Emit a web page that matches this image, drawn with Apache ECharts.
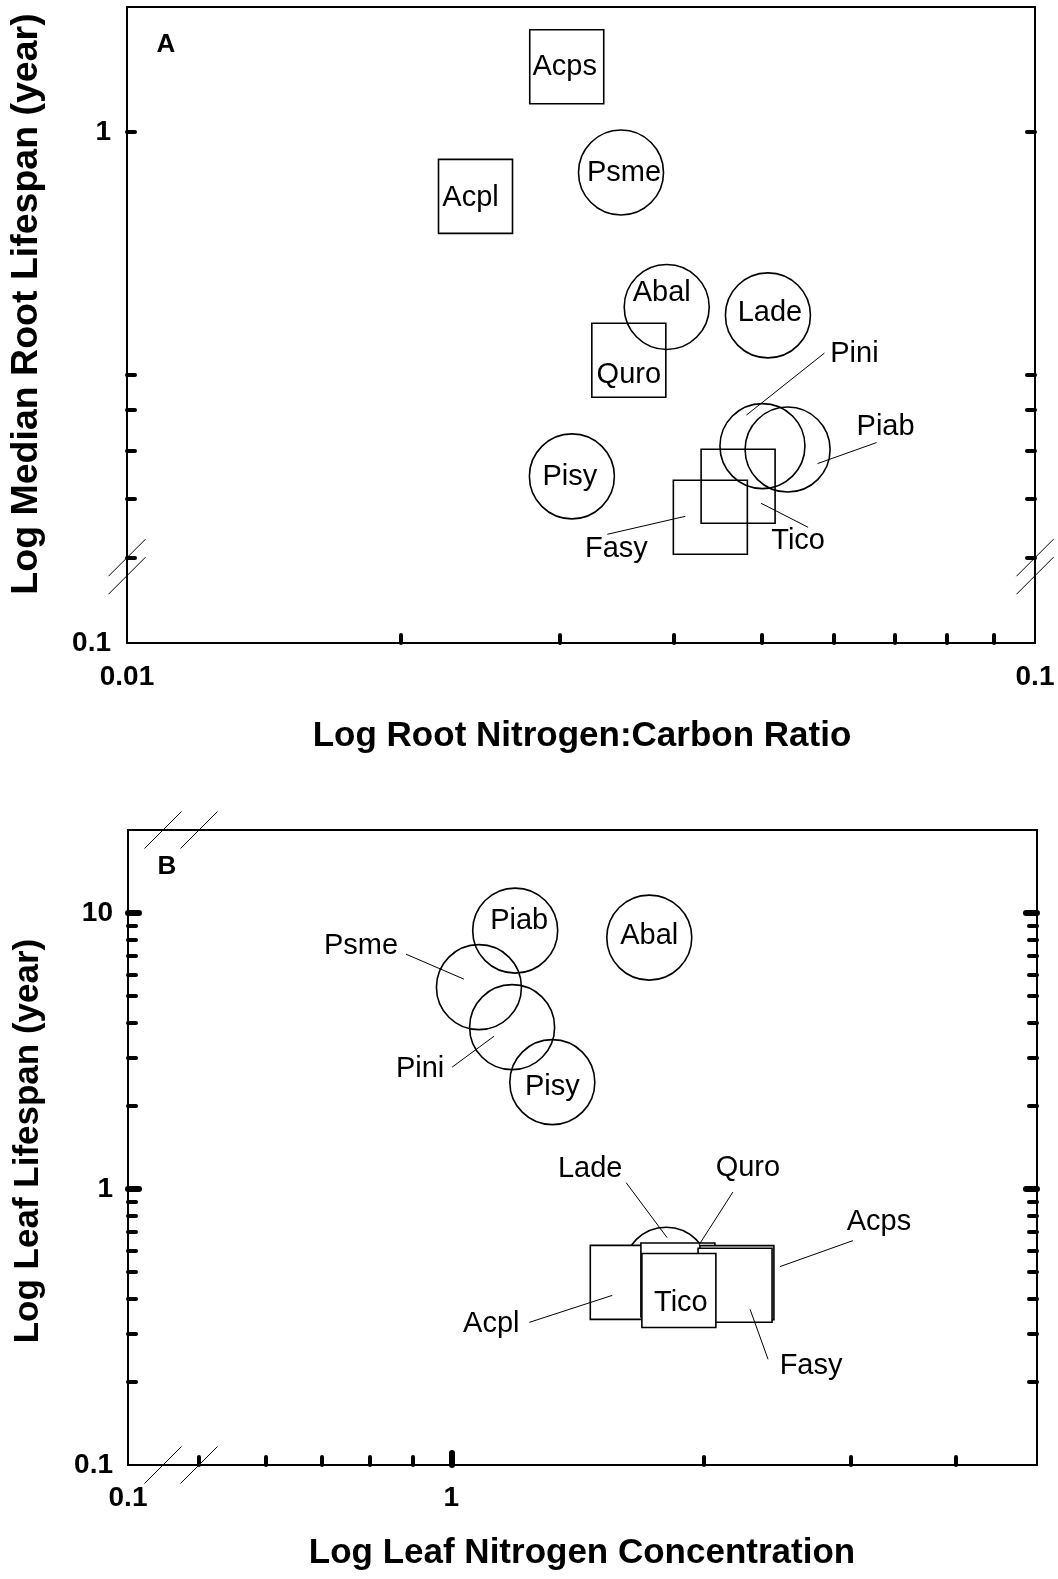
<!DOCTYPE html>
<html>
<head>
<meta charset="utf-8">
<script src="https://cdn.jsdelivr.net/npm/echarts@6.0.0/dist/echarts.min.js"></script>
<style>
  html, body { margin: 0; padding: 0; background: #fff; }
  #chart { width: 1058px; height: 1579px; }
</style>
</head>
<body>
<div id="chart"></div>
<script>
// ================= DATA =================
// Panel A : root N:C ratio vs median root lifespan
const aSpecies  = ['Acps', 'Acpl', 'Psme', 'Abal', 'Lade', 'Quro', 'Pini', 'Piab', 'Pisy', 'Tico', 'Fasy'];
const aGroup    = ['deciduous', 'deciduous', 'conifer', 'conifer', 'conifer', 'deciduous', 'conifer', 'conifer', 'conifer', 'deciduous', 'deciduous'];
const aRootNC   = [0.0305, 0.0242, 0.0350, 0.0393, 0.0508, 0.0357, 0.0501, 0.0534, 0.0309, 0.0471, 0.0439];
const aRootLife = [1.28, 0.784, 0.858, 0.516, 0.500, 0.422, 0.305, 0.301, 0.272, 0.262, 0.233];

// Panel B : leaf N concentration vs leaf lifespan
const bSpecies  = ['Psme', 'Piab', 'Pini', 'Pisy', 'Abal', 'Lade', 'Acpl', 'Quro', 'Acps', 'Fasy', 'Tico'];
const bGroup    = ['conifer', 'conifer', 'conifer', 'conifer', 'conifer', 'conifer', 'deciduous', 'deciduous', 'deciduous', 'deciduous', 'deciduous'];
const bLeafN    = [1.079, 1.192, 1.182, 1.320, 1.723, 1.805, 1.622, 1.864, 2.192, 2.181, 1.869];
const bLeafLife = [5.39, 8.64, 3.86, 2.44, 8.15, 0.510, 0.459, 0.468, 0.458, 0.448, 0.429];

// Tick values / labels
const aXTickVals  = [0.02, 0.03, 0.04, 0.05, 0.06, 0.07, 0.08, 0.09];
const aXLabelVals = [0.01, 0.1];
const aYTickVals  = [0.2, 0.25, 0.3, 0.35, 0.4, 1];
const aYLabelVals = [1];
const aYBreakLabel = '0.1';          // label printed at the broken lower end
const bXTickVals  = [0.5, 0.6, 0.7, 0.8, 0.9, 1, 2, 3, 4];
const bXMajorVals = [1];
const bXLabelVals = [1];
const bXBreakLabel = '0.1';          // label printed at the broken left end
const bYTickVals  = [0.2, 0.3, 0.4, 0.5, 0.6, 0.7, 0.8, 0.9, 1, 2, 3, 4, 5, 6, 7, 8, 9, 10];
const bYMajorVals = [1, 10];
const bYLabelVals = [0.1, 1, 10];

// Axis extents (broken axes: the lowest part is compressed)
const aXExtent = [0.01, 0.1];
const aYExtent = [0.14487, 1.6040];
const bXExtent = [0.41137, 5];
const bYExtent = [0.1, 20];
const aYBreakAt = 0.2;
const bXBreakAt = 0.5;

// ================= LAYOUT / STYLE =================
const FONT = '"Liberation Sans", Arial, Helvetica, sans-serif';
const GRID_A = { left: 127, top: 7, width: 908, height: 636 };
const GRID_B = { left: 128, top: 830, width: 909, height: 635 };

const labelOffsetA = {
  Acps: [-2, 0], Acpl: [-5, 2], Psme: [3, 1], Abal: [-5, -14], Lade: [2, -2], Quro: [0, 15],
  Pini: [92, -92], Piab: [98, -23], Pisy: [-2, 1], Tico: [60, 55], Fasy: [-94, 32]
};
const labelOffsetB = {
  Piab: [4, -10], Abal: [0, -2], Pisy: [0, 5], Psme: [-118, -41], Pini: [-92, 42],
  Lade: [-76, -101], Quro: [70, -112], Acps: [142, -61], Fasy: [76, 81], Acpl: [-136, 42], Tico: [2, 13]
};
// leader lines, relative to the marker centre: [from, to]
const leaderA = {
  Pini: [[62, -93], [-16, -31]],
  Piab: [[89, -7], [30, 14]],
  Fasy: [[-103, 17], [-25, -1]],
  Tico: [[70, 41], [23, 17]]
};
const leaderB = {
  Psme: [[-73, -33], [-15, -8]],
  Pini: [[-60, 40], [-18, 9]],
  Lade: [[-40, -87], [1, -32]],
  Quro: [[55, -88], [21, -35]],
  Acps: [[116, -42], [43, -16]],
  Fasy: [[33, 74], [15, 24]],
  Acpl: [[-98, 40], [-15, 13]]
};

const L = Math.log10;
function fmt(v) { return String(parseFloat(Math.pow(10, v).toPrecision(6))); }

const tickStyle = (vals, len, w) => ({
  show: true, inside: true, length: len,
  customValues: vals.map(L),
  lineStyle: { color: '#000', width: w, cap: 'round' }
});
const labelStyle = { color: '#000', fontFamily: FONT, fontWeight: 'bold', fontSize: 28 };

function valAxis(extra) {
  return Object.assign({
    type: 'value', axisLine: { show: false, onZero: false }, splitLine: { show: false },
    axisLabel: { show: false }, axisTick: { show: false }, silent: true
  }, extra);
}

// ---------- axes ----------
const xAxes = [
  valAxis({ gridIndex: 0, position: 'bottom', min: L(aXExtent[0]), max: L(aXExtent[1]),
    axisTick: tickStyle(aXTickVals, 8, 4),
    axisLabel: Object.assign({ show: true, margin: 20, customValues: aXLabelVals.map(L), formatter: v => fmt(v) }, labelStyle) }),
  valAxis({ gridIndex: 1, position: 'bottom', min: L(bXExtent[0]), max: L(bXExtent[1]),
    axisTick: tickStyle(bXTickVals, 8, 4),
    axisLabel: Object.assign({ show: true, margin: 19, customValues: [L(bXExtent[0])].concat(bXLabelVals.map(L)),
      formatter: v => (Math.abs(v - L(bXExtent[0])) < 1e-9 ? bXBreakLabel : fmt(v)) }, labelStyle) }),
  valAxis({ gridIndex: 1, position: 'bottom', min: L(bXExtent[0]), max: L(bXExtent[1]),
    axisTick: tickStyle(bXMajorVals, 12, 6) })
];
const yAxes = [
  valAxis({ gridIndex: 0, position: 'left', min: L(aYExtent[0]), max: L(aYExtent[1]),
    axisTick: tickStyle(aYTickVals, 8, 4),
    axisLabel: Object.assign({ show: true, margin: 16, customValues: [L(aYExtent[0])].concat(aYLabelVals.map(L)),
      formatter: v => (Math.abs(v - L(aYExtent[0])) < 1e-9 ? aYBreakLabel : fmt(v)) }, labelStyle) }),
  valAxis({ gridIndex: 0, position: 'right', min: L(aYExtent[0]), max: L(aYExtent[1]),
    axisTick: tickStyle(aYTickVals, 8, 4) }),
  valAxis({ gridIndex: 1, position: 'left', min: L(bYExtent[0]), max: L(bYExtent[1]),
    axisTick: tickStyle(bYTickVals, 8, 4),
    axisLabel: Object.assign({ show: true, margin: 15, customValues: bYLabelVals.map(L), formatter: v => fmt(v) }, labelStyle) }),
  valAxis({ gridIndex: 1, position: 'right', min: L(bYExtent[0]), max: L(bYExtent[1]),
    axisTick: tickStyle(bYTickVals, 8, 4) }),
  valAxis({ gridIndex: 1, position: 'left', min: L(bYExtent[0]), max: L(bYExtent[1]),
    axisTick: tickStyle(bYMajorVals, 11, 6) }),
  valAxis({ gridIndex: 1, position: 'right', min: L(bYExtent[0]), max: L(bYExtent[1]),
    axisTick: tickStyle(bYMajorVals, 11, 6) })
];

// ---------- series ----------
function markerSeries(species, group, xs, ys, which, xi, yi, fill, offsets) {
  const data = [];
  species.forEach((s, i) => {
    if (group[i] !== which) return;
    data.push({ name: s, value: [L(xs[i]), L(ys[i])], label: { offset: offsets[s] || [0, 0] } });
  });
  return {
    type: 'scatter', xAxisIndex: xi, yAxisIndex: yi, data,
    symbol: which === 'conifer' ? 'circle' : 'rect',
    symbolSize: which === 'conifer' ? 85 : 74,
    itemStyle: { color: fill, borderColor: '#000', borderWidth: 1.6, opacity: 1 },
    label: { show: true, position: 'inside', formatter: '{b}', color: '#000', fontFamily: FONT, fontSize: 29 },
    emphasis: { disabled: true }, silent: true, animation: false, clip: false, z: 2
  };
}
function leaderSeries(species, xs, ys, leaders, xi, yi) {
  const data = [];
  species.forEach((s, i) => { if (leaders[s]) data.push([L(xs[i]), L(ys[i]), i]); });
  return {
    type: 'custom', xAxisIndex: xi, yAxisIndex: yi, data, z: 5, silent: true, animation: false,
    renderItem(params, api) {
      const d = leaders[species[api.value(2)]];
      const c = api.coord([api.value(0), api.value(1)]);
      return { type: 'line', shape: { x1: c[0] + d[0][0], y1: c[1] + d[0][1], x2: c[0] + d[1][0], y2: c[1] + d[1][1] },
               style: { stroke: '#000', lineWidth: 1 } };
    }
  };
}

const series = [
  markerSeries(aSpecies, aGroup, aRootNC, aRootLife, 'conifer', 0, 0, 'rgba(0,0,0,0)', labelOffsetA),
  markerSeries(aSpecies, aGroup, aRootNC, aRootLife, 'deciduous', 0, 0, 'rgba(0,0,0,0)', labelOffsetA),
  leaderSeries(aSpecies, aRootNC, aRootLife, leaderA, 0, 0),
  markerSeries(bSpecies, bGroup, bLeafN, bLeafLife, 'conifer', 1, 2, 'rgba(0,0,0,0)', labelOffsetB),
  markerSeries(bSpecies, bGroup, bLeafN, bLeafLife, 'deciduous', 1, 2, '#ffffff', labelOffsetB),
  leaderSeries(bSpecies, bLeafN, bLeafLife, leaderB, 1, 2)
];

const chart = echarts.init(document.getElementById('chart'), null, { renderer: 'canvas' });
chart.setOption({
  animation: false,
  backgroundColor: '#fff',
  grid: [
    Object.assign({ show: true, borderColor: '#000', borderWidth: 2, backgroundColor: 'transparent' }, GRID_A),
    Object.assign({ show: true, borderColor: '#000', borderWidth: 2, backgroundColor: 'transparent' }, GRID_B)
  ],
  xAxis: xAxes,
  yAxis: yAxes,
  series: series
});

// ---------- titles, panel letters and axis-break marks ----------
function text(id, str, x, y, size, rot) {
  return { type: 'text', id, x, y, rotation: rot || 0, silent: true, z: 10,
    style: { text: str, fill: '#000', fontFamily: FONT, fontWeight: 'bold', fontSize: size, align: 'center', verticalAlign: 'middle' } };
}
function slash(id, cx, cy) {
  return { type: 'line', id, silent: true, z: 10,
    shape: { x1: cx - 18.5, y1: cy + 18.5, x2: cx + 18.5, y2: cy - 18.5 },
    style: { stroke: '#000', lineWidth: 1 } };
}
const graphics = [
  text('tAy', 'Log Median Root Lifespan (year)', 27, 304, 37.5, Math.PI / 2),
  text('tAx', 'Log Root Nitrogen:Carbon Ratio', 582, 736, 35),
  text('tBy', 'Log Leaf Lifespan (year)', 28, 1141, 35, Math.PI / 2),
  text('tBx', 'Log Leaf Nitrogen Concentration', 582, 1553, 35),
  text('pA', 'A', GRID_A.left + 39, GRID_A.top + 38, 26),
  text('pB', 'B', GRID_B.left + 39, GRID_B.top + 37, 26)
];
// A: break on both vertical axes just below 0.2
const pA1 = chart.convertToPixel({ xAxisIndex: 0, yAxisIndex: 0 }, [L(aXExtent[0]), L(aYBreakAt)]);
const pA2 = chart.convertToPixel({ xAxisIndex: 0, yAxisIndex: 0 }, [L(aXExtent[1]), L(aYBreakAt)]);
graphics.push(slash('sA1', pA1[0], pA1[1]), slash('sA2', pA1[0], pA1[1] + 18),
              slash('sA3', pA2[0], pA2[1]), slash('sA4', pA2[0], pA2[1] + 18));
// B: break on both horizontal edges just left of 0.5
const pB1 = chart.convertToPixel({ xAxisIndex: 1, yAxisIndex: 2 }, [L(bXBreakAt), L(bYExtent[0])]);
const pB2 = chart.convertToPixel({ xAxisIndex: 1, yAxisIndex: 2 }, [L(bXBreakAt), L(bYExtent[1])]);
graphics.push(slash('sB1', pB1[0], pB1[1]), slash('sB2', pB1[0] - 36, pB1[1]),
              slash('sB3', pB2[0], pB2[1]), slash('sB4', pB2[0] - 36, pB2[1]));
chart.setOption({ graphic: graphics });
</script>
</body>
</html>
